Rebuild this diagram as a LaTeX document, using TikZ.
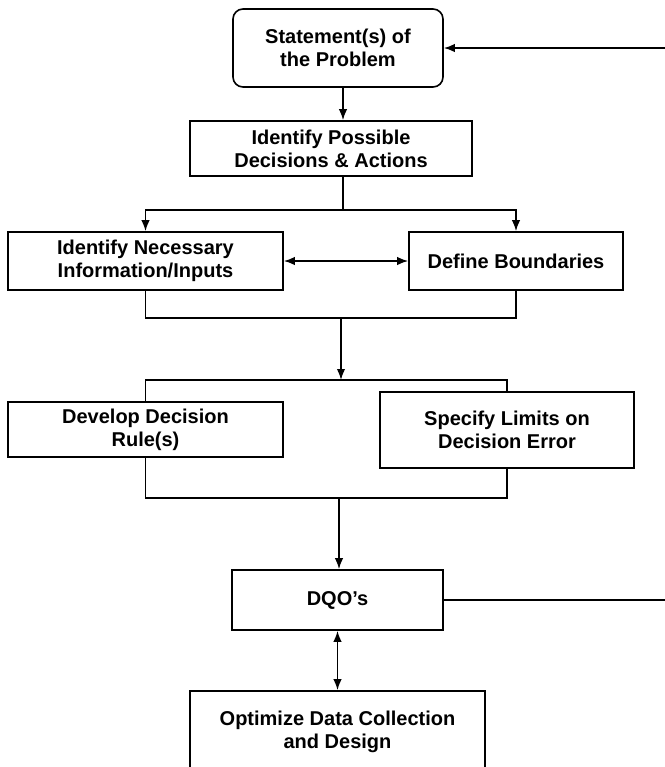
\documentclass[tikz,border=0pt]{standalone}
\usepackage{fontspec}
\setmainfont{Liberation Sans}
\usepackage{tikz}
\usetikzlibrary{calc,arrows.meta}

\begin{document}
\begin{tikzpicture}[x=0.5pt, y=-0.5pt, line width=0.8pt, >={Latex[length=5.5pt,width=4.2pt]},
  box/.style={draw, rectangle, inner sep=0, align=center, font=\bfseries\fontsize{10}{11.5}\selectfont}]

\useasboundingbox (0,0) rectangle (665,767);
\clip (0,0) rectangle (665,767);

\node[box, rounded corners=5pt, minimum width=105pt, minimum height=39pt] (stmt) at (338,48) {Statement(s) of\\the Problem};

\node[box, minimum width=141pt, minimum height=27.5pt] (decide) at (331,148.5) {Identify Possible\\Decisions \& Actions};

\node[box, minimum width=137.5pt, minimum height=29pt] (info) at (145.5,261) {Identify Necessary\\Information/Inputs};
\node[box, minimum width=107pt, minimum height=29pt] (bound) at (516,261) {Define Boundaries};

\node[box, minimum width=137.5pt, minimum height=27.5pt] (rule) at (145.5,429.5) {Develop Decision\\Rule(s)};
\node[box, minimum width=127pt, minimum height=38pt] (limits) at (507,430) {Specify Limits on\\Decision Error};

\node[box, minimum width=105.5pt, minimum height=30pt] (dqo) at (337.5,600) {DQO's};

\node[box, minimum width=147.5pt, minimum height=40.5pt] (optim) at (337.5,731.5) {Optimize Data Collection\\and Design};

% split and join points
\coordinate (split1) at (343,210);
\coordinate (join1) at (341,318);
\coordinate (split2) at (341,380);
\coordinate (join2) at (339,498);
\coordinate (fb1) at (665,48);
\coordinate (fb2) at (665,600);

\draw[->] (fb1) -- (stmt.east);
\draw[->] (split1 |- stmt.south) -- (split1 |- decide.north);

\draw (split1 |- decide.south) -- (split1);
\draw[->] (split1) -| (info.north);
\draw[->] (split1) -| (bound.north);

\draw[<->] (info.east) -- (bound.west);

\draw (info.south) |- (join1) -| (bound.south);
\draw[->] (join1) -- (split2);
\draw (rule.north) |- (split2) -| (limits.north);

\draw (rule.south) |- (join2) -| (limits.south);
\draw[->] (join2) -- (join2 |- dqo.north);

\draw (dqo.east) -- (fb2);
\draw[<->] (dqo.south) -- (optim.north);

\end{tikzpicture}
\end{document}
